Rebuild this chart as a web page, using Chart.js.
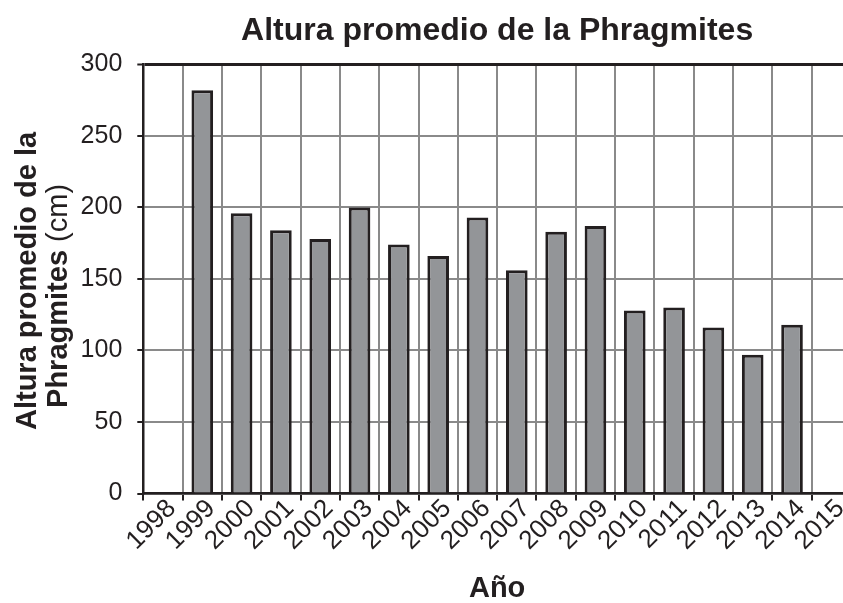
<!DOCTYPE html>
<html>
<head>
<meta charset="utf-8">
<script src="https://cdn.jsdelivr.net/npm/chart.js@4"></script>
<style>
  html, body { margin: 0; padding: 0; overflow: hidden; background: #fff; }
  #wrap { width: 860px; height: 603px; }
</style>
</head>
<body>
<div id="wrap"><canvas id="chart-height"></canvas></div>
<script>
const years = ["1998", "1999", "2000", "2001", "2002", "2003", "2004", "2005", "2006",
  "2007", "2008", "2009", "2010", "2011", "2012", "2013", "2014", "2015"];
const heights = [null, 282, 196, 184, 178, 200, 174, 166, 193,
  156, 183, 187, 128, 130, 116, 97, 118, null];
const yTicks = [0, 50, 100, 150, 200, 250, 300];
const titleText = "Altura promedio de la Phragmites";
const xTitleText = "Año";
const yTitleLine1 = "Altura promedio de la";
const yTitleLine2 = ["Phragmites", " (cm)"];

const ink = "#231f20";
const gridGray = "#8a8a8a";
const barFill = "#939598";
const family = "'Liberation Sans', Arial, Helvetica, sans-serif";

Chart.defaults.font.family = family;

// y title has a bold part and a plain "(cm)", so draw it by hand
const yTitlePlugin = {
  id: "yTitle",
  afterDraw(chart) {
    const c = chart.ctx;
    const mid = (chart.chartArea.top + chart.chartArea.bottom) / 2;
    c.save();
    c.fillStyle = ink;
    c.textBaseline = "alphabetic";
    c.translate(36, mid + 2);
    c.rotate(-Math.PI / 2);
    c.font = "bold 29px " + family;
    c.textAlign = "center";
    c.fillText(yTitleLine1, 0, 0);
    c.restore();

    c.save();
    c.fillStyle = ink;
    c.textBaseline = "alphabetic";
    c.translate(67, mid + 17);
    c.rotate(-Math.PI / 2);
    c.textAlign = "left";
    c.font = "bold 29px " + family;
    const wb = c.measureText(yTitleLine2[0]).width;
    c.font = "29px " + family;
    const wr = c.measureText(yTitleLine2[1]).width;
    const start = -(wb + wr) / 2;
    c.font = "bold 29px " + family;
    c.fillText(yTitleLine2[0], start, 0);
    c.font = "29px " + family;
    c.fillText(yTitleLine2[1], start + wb, 0);
    c.restore();
  }
};

const ctx = document.getElementById("chart-height").getContext("2d");

new Chart(ctx, {
  type: "bar",
  data: {
    labels: years,
    datasets: [
      {
        data: heights,
        backgroundColor: barFill,
        borderColor: ink,
        borderWidth: 3,
        barPercentage: 0.55,
        categoryPercentage: 1,
      },
    ],
  },
  options: {
    responsive: true,
    maintainAspectRatio: false,
    animation: false,
    layout: { padding: { left: 0, right: 9, top: 0, bottom: 0 } },
    plugins: {
      legend: { display: false },
      tooltip: { enabled: false },
      title: {
        display: true,
        text: titleText,
        fullSize: false,
        color: ink,
        font: { size: 32, weight: "bold" },
        padding: { top: 12, bottom: 14 },
      },
    },
    scales: {
      x: {
        offset: true,
        grid: { offset: true, color: gridGray, lineWidth: 2, tickLength: 7, tickColor: ink, tickWidth: 2 },
        border: { color: ink, width: 2.5 },
        ticks: {
          color: ink,
          font: { size: 26 },
          minRotation: 45,
          maxRotation: 45,
          autoSkip: false,
          labelOffset: 9,
          padding: -7,
        },
        title: {
          display: true,
          text: xTitleText,
          color: ink,
          font: { size: 29, weight: "bold" },
          padding: { top: 0, bottom: -3 },
        },
        afterFit(scale) { scale.height = 109.5; },
      },
      y: {
        min: 0,
        max: 300,
        afterBuildTicks(scale) { scale.ticks = yTicks.map(v => ({ value: v })); },
        grid: {
          color: c => (c.tick && c.tick.value === 300 ? ink : gridGray),
          lineWidth: c => (c.tick && c.tick.value === 300 ? 3 : 2),
          tickLength: 6,
          tickColor: ink,
          tickWidth: 2,
        },
        border: { color: ink, width: 2.5 },
        ticks: { color: ink, font: { size: 25 }, padding: 15 },
        afterFit(scale) { scale.width = 143.3; },
      },
    },
  },
  plugins: [yTitlePlugin],
});
</script>
</body>
</html>
